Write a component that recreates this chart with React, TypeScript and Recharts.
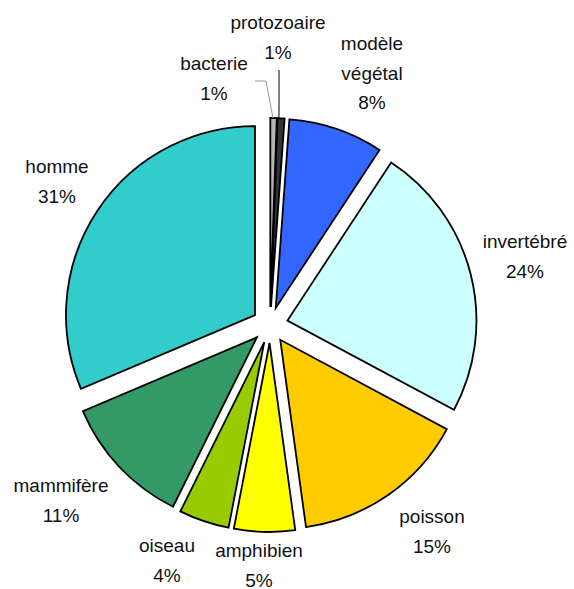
import { PieChart, Pie, Cell, Sector } from "recharts";

const names = [
  "bacterie",
  "protozoaire",
  "modèle végétal",
  "invertébré",
  "poisson",
  "amphibien",
  "oiseau",
  "mammifère",
  "homme",
];
const shares = [0.55, 0.6, 8.1, 23.6, 15.0, 5.2, 4.3, 11.3, 31.4];
const colors = [
  "#B4B4B4",
  "#333333",
  "#3366FF",
  "#CCFFFF",
  "#FFCC00",
  "#FFFF00",
  "#99CC00",
  "#339966",
  "#33CCCC",
];

const data = names.map((name, i) => ({ name, value: shares[i] }));

// where each label sits (text centre x, first baseline y) and its leader line
const labelLayout: { x: number; y: number; leader?: number[][]; leaderColor?: string }[] = [
  { x: 214, y: 70, leader: [[255, 81], [266, 81], [273, 118]], leaderColor: "#999" },
  { x: 278, y: 29, leader: [[279, 70], [279, 118]], leaderColor: "#000" },
  { x: 372, y: 50 },
  { x: 525, y: 248 },
  { x: 432, y: 523 },
  { x: 259, y: 557 },
  { x: 167, y: 552 },
  { x: 61, y: 492 },
  { x: 57, y: 173 },
];

const EXPLODE = 18;
const LINE = 29.5;

function ExplodedSector(props: any) {
  const { cx, cy, midAngle, innerRadius, outerRadius, startAngle, endAngle, fill } = props;
  const rad = (midAngle * Math.PI) / 180;
  return (
    <Sector
      cx={cx + EXPLODE * Math.cos(rad)}
      cy={cy - EXPLODE * Math.sin(rad)}
      innerRadius={innerRadius}
      outerRadius={outerRadius}
      startAngle={startAngle}
      endAngle={endAngle}
      fill={fill}
      stroke="#000"
      strokeWidth={1.8}
    />
  );
}

function renderLabel(props: any) {
  const { index, percent, name } = props;
  const pos = labelLayout[index];
  const lines = [...String(name).split(" "), `${Math.round(percent * 100)}%`];
  return (
    <g>
      {pos.leader && (
        <polyline
          points={pos.leader.map((p) => p.join(",")).join(" ")}
          fill="none"
          stroke={pos.leaderColor}
          strokeWidth={1}
        />
      )}
      <text
        x={pos.x}
        y={pos.y}
        textAnchor="middle"
        fill="#111"
        fontSize={19}
        fontFamily="'Liberation Sans', Arial, sans-serif"
      >
        {lines.map((l, i) => (
          <tspan key={i} x={pos.x} y={pos.y + i * LINE}>
            {l}
          </tspan>
        ))}
      </text>
    </g>
  );
}

export default function App() {
  return (
    <div style={{ position: "absolute", left: 0, top: 0, width: 574, height: 589, background: "#fff" }}>
      <PieChart width={574} height={589} margin={{ top: 0, right: 0, bottom: 0, left: 0 }}>
        <Pie
          data={data}
          dataKey="value"
          nameKey="name"
          cx={270}
          cy={325}
          outerRadius={189}
          startAngle={90}
          endAngle={-270}
          shape={ExplodedSector}
          label={renderLabel}
          labelLine={false}
          isAnimationActive={false}
        >
          {data.map((d, i) => (
            <Cell key={d.name} fill={colors[i]} />
          ))}
        </Pie>
      </PieChart>
    </div>
  );
}
